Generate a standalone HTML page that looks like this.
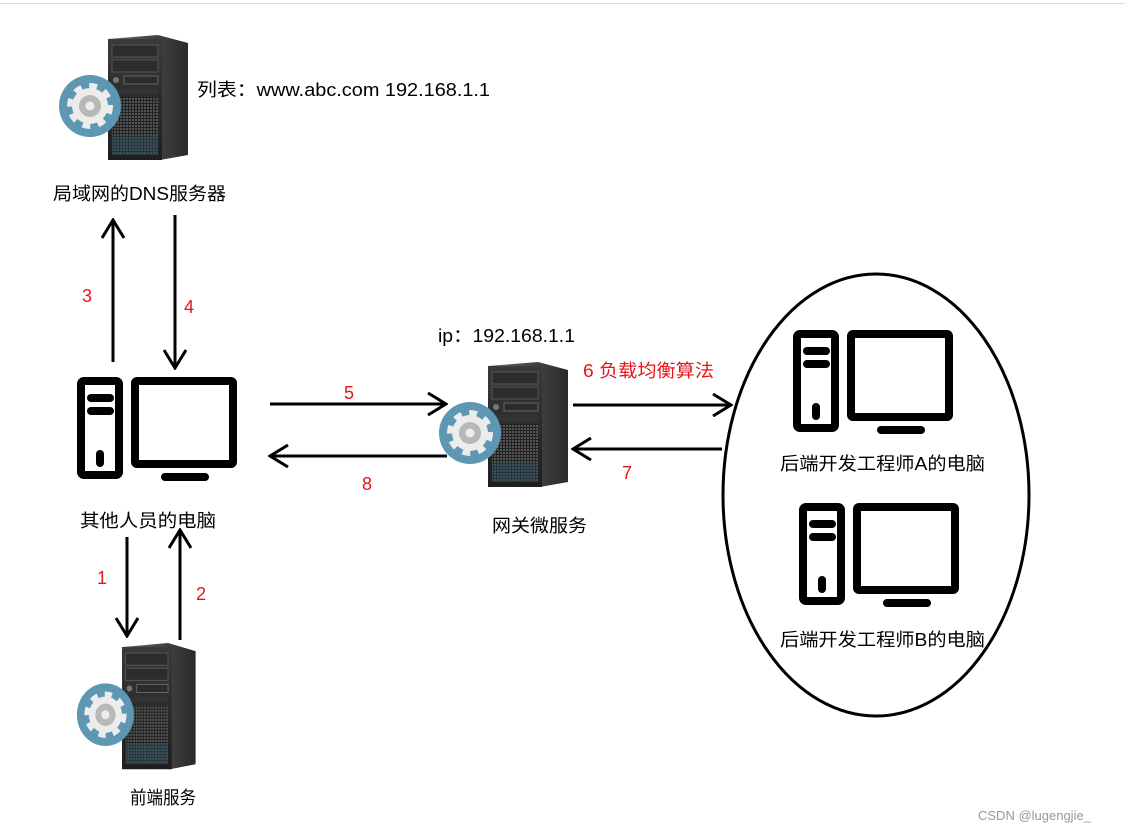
<!DOCTYPE html>
<html><head><meta charset="utf-8"><style>
body{margin:0;background:#fff;}
svg{display:block;}
text{font-family:"Liberation Sans","Noto Sans CJK SC",sans-serif;}
</style></head><body>
<svg width="1125" height="833" viewBox="0 0 1125 833" xmlns="http://www.w3.org/2000/svg">
<defs>
<linearGradient id="side" x1="0" x2="1"><stop offset="0" stop-color="#666"/><stop offset="1" stop-color="#2a2a2a"/></linearGradient>
<linearGradient id="front" x1="0" y1="0" x2="0" y2="1"><stop offset="0" stop-color="#3a3a3a"/><stop offset="1" stop-color="#1e1e1e"/></linearGradient>
<pattern id="mesh" width="3" height="3" patternUnits="userSpaceOnUse"><rect width="3" height="3" fill="#222"/><rect width="2" height="2" fill="#555"/></pattern>
<g id="srv">
<path d="M0 4 L50 0 L80 8 L80 120 L52 125 L0 118 Z" fill="url(#side)"/>
<rect x="0" y="4" width="54" height="121" fill="url(#front)"/>
<rect x="4" y="10" width="46" height="12" fill="#2c2c2c" stroke="#555" stroke-width="1"/>
<rect x="4" y="25" width="46" height="12" fill="#2c2c2c" stroke="#555" stroke-width="1"/>
<rect x="16" y="41" width="34" height="8" fill="#2c2c2c" stroke="#666" stroke-width="1"/>
<circle cx="8" cy="45" r="3" fill="#777"/>
<rect x="4" y="53" width="46" height="6" fill="#333"/>
<rect x="4" y="62" width="46" height="58" fill="url(#mesh)"/>
<rect x="4" y="100" width="46" height="20" fill="#2a4a5a" opacity="0.5"/>
<circle cx="-18" cy="71" r="31" fill="#5e97b3"/>
<circle cx="-18" cy="71" r="18" fill="#ececec" stroke="#ececec" stroke-width="10" stroke-dasharray="7 7"/>
<circle cx="-18" cy="71" r="11" fill="#b8b8b8"/>
<circle cx="-18" cy="71" r="4.5" fill="#ececec"/>
</g>
<g id="pc" fill="none" stroke="#000" stroke-width="8" stroke-linecap="round">
<rect x="4" y="4" width="38" height="94" rx="3" fill="#fff"/>
<line x1="14" y1="21" x2="33" y2="21"/>
<line x1="14" y1="34" x2="33" y2="34"/>
<line x1="23" y1="77" x2="23" y2="86"/>
<rect x="58" y="4" width="98" height="83" rx="2" fill="#fff"/>
<line x1="88" y1="100" x2="128" y2="100"/>
</g>
<marker id="ah" viewBox="0 0 24 24" refX="22" refY="12" markerWidth="24" markerHeight="24" markerUnits="userSpaceOnUse" orient="auto">
<path d="M4 1 L22 12 L4 23" fill="none" stroke="#000" stroke-width="3"/>
</marker>
</defs>
<line x1="0" y1="3.5" x2="1125" y2="3.5" stroke="#ddd" stroke-width="1"/>

<use href="#srv" x="108" y="35"/>
<use href="#srv" x="488" y="362"/>
<g transform="translate(122,643) scale(0.92,1.01)"><use href="#srv"/></g>

<use href="#pc" x="77" y="377"/>
<use href="#pc" x="793" y="330"/>
<use href="#pc" x="799" y="503"/>

<ellipse cx="876" cy="495" rx="153" ry="221" fill="none" stroke="#000" stroke-width="3"/>

<g stroke="#000" stroke-width="3" fill="none" marker-end="url(#ah)">
<line x1="113" y1="362" x2="113" y2="220"/>
<line x1="175" y1="215" x2="175" y2="368"/>
<line x1="270" y1="404" x2="446" y2="404"/>
<line x1="447" y1="456" x2="270" y2="456"/>
<line x1="573" y1="405" x2="731" y2="405"/>
<line x1="722" y1="449" x2="573" y2="449"/>
<line x1="127" y1="537" x2="127" y2="636"/>
<line x1="180" y1="640" x2="180" y2="530"/>
</g>

<g font-size="18" fill="#000" lengthAdjust="spacingAndGlyphs">
<text x="197" y="96" textLength="293" lengthAdjust="spacingAndGlyphs">列表：www.abc.com 192.168.1.1</text>
<text x="53" y="200" textLength="173" lengthAdjust="spacingAndGlyphs">局域网的DNS服务器</text>
<text x="438" y="342" textLength="137" lengthAdjust="spacingAndGlyphs">ip：192.168.1.1</text>
<text x="80" y="527" textLength="136" lengthAdjust="spacingAndGlyphs">其他人员的电脑</text>
<text x="492" y="532" textLength="95" lengthAdjust="spacingAndGlyphs">网关微服务</text>
<text x="780" y="470" textLength="205" lengthAdjust="spacingAndGlyphs">后端开发工程师A的电脑</text>
<text x="780" y="646" textLength="205" lengthAdjust="spacingAndGlyphs">后端开发工程师B的电脑</text>
<text x="130" y="804" textLength="66" lengthAdjust="spacingAndGlyphs">前端服务</text>
</g>
<g font-size="18" fill="#e8141c">
<text x="82" y="302">3</text>
<text x="184" y="313">4</text>
<text x="344" y="399">5</text>
<text x="362" y="490">8</text>
<text x="583" y="377" textLength="131" lengthAdjust="spacingAndGlyphs">6 负载均衡算法</text>
<text x="622" y="479">7</text>
<text x="97" y="584">1</text>
<text x="196" y="600">2</text>
</g>
<text x="978" y="820" font-size="13" fill="#999">CSDN @lugengjie_</text>
</svg>
</body></html>
